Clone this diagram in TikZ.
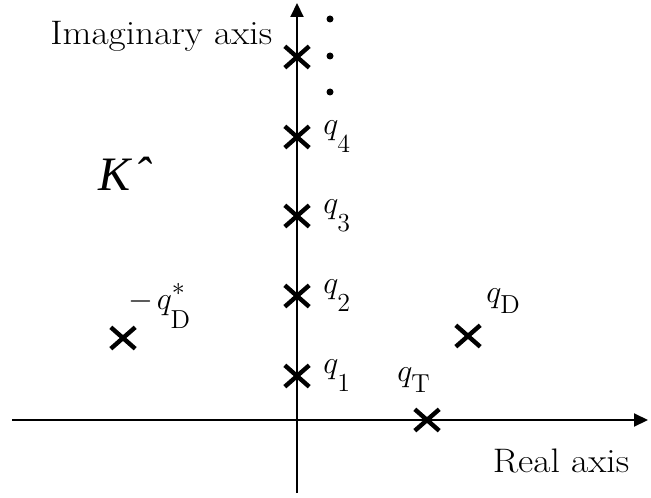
\documentclass[tikz,border=0pt]{standalone}
\usepackage{fix-cm}
\usepackage{fontspec}
\newfontfamily\timesfont{Liberation Serif}
\usetikzlibrary{positioning,arrows.meta,shapes.misc,calc}

% lowered subscript, as in the figure
\newcommand{\lowsub}[2]{\raisebox{-#1}{\fontsize{13}{15}\selectfont$\mathrm{#2}$}}

\begin{document}
\begin{tikzpicture}[
    x=0.5pt, y=-0.5pt,
    font=\fontsize{16}{19}\selectfont,
    axis/.style={line width=1pt, -{Triangle[length=7pt, width=6.5pt]}},
    pole/.style={draw, cross out, line width=2.2pt, minimum width=10pt, minimum height=8.5pt, inner sep=0pt},
    qlbl/.style={inner sep=0pt, anchor=base west},
    axlbl/.style={inner sep=0pt, font=\fontsize{17}{20}\selectfont},
    moredot/.style={circle, fill, inner sep=0pt, minimum size=3.5pt}
]
\useasboundingbox (0,0) rectangle (651,497);

% ===== Axes =====
\coordinate (xstart) at (12,420);
\coordinate (xend) at (648,420);
\coordinate (ystart) at (297,493);
\coordinate (yend) at (297,3);
\draw[axis] (xstart) -- (xend);
\draw[axis] (ystart) -- (yend);

\node[axlbl, anchor=base west] (imlbl) at (50,45) {\scalebox{1.1}[1]{Imaginary axis}};
\node[axlbl, anchor=base] (relbl) at (561,472) {\scalebox{1.1}[1]{Real axis}};

% ===== Poles on the imaginary axis =====
\foreach \name/\y in {q1/376, q2/296, q3/216, q4/137, q5/57}
  \node[pole] (\name) at (297,\y) {};
\foreach \name/\i in {q1/1, q2/2, q3/3, q4/4}
  \node[qlbl] (\name lbl) at ($(\name)+(26,-3)$) {$q_{\lowsub{7pt}{\i}}$};

% dots above
\foreach \y [count=\k] in {19,56,92}
  \node[moredot] (dot\k) at (330,\y) {};

% ===== Other poles =====
\node[pole] (qT) at (427,420) {};
\node[pole] (qD) at (468,336) {};
\node[pole] (mqD) at (123,338) {};

\node[qlbl] (qTlbl) at ($(qT)+(-30,-39)$) {$q_{\lowsub{3.5pt}{T}}$};
\node[qlbl] (qDlbl) at ($(qD)+(18,-34)$) {$q_{\lowsub{3.5pt}{D}}$};
\node[qlbl] (mqDlbl) at ($(mqD)+(5,-29)$) {$-\mkern2mu q^{\lowsub{-1pt}{*}}_{\lowsub{6pt}{D}}$};

% ===== K label =====
\node[anchor=west, inner sep=0pt, font=\timesfont\itshape\fontsize{24}{28}\selectfont] (Klbl) at (98,174) {K\kern2pt\char"02C6};

\end{tikzpicture}
\end{document}
